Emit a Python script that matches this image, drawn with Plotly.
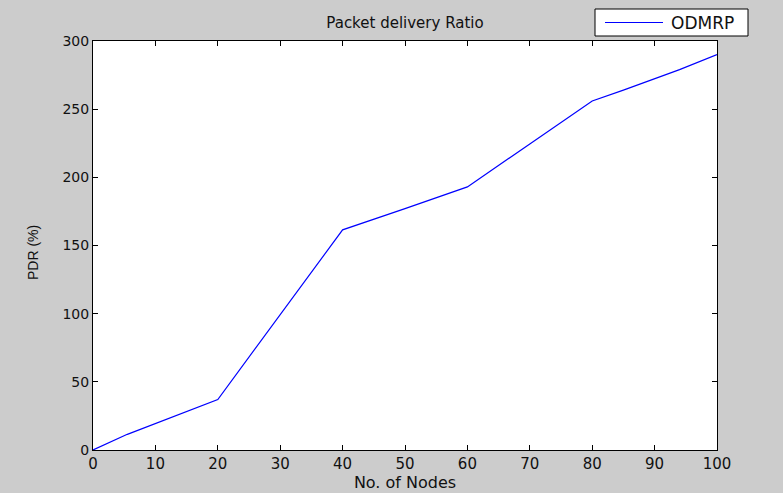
import plotly.graph_objects as go

nodes = [0, 4, 5.5, 20, 40, 50, 57.6, 60, 70, 80, 85, 94, 100]
pdr = [0, 8, 11.5, 37, 161.5, 177, 188.8, 193, 224.5, 256, 264, 279, 290]
x_ticks = [0, 10, 20, 30, 40, 50, 60, 70, 80, 90, 100]
y_ticks = [0, 50, 100, 150, 200, 250, 300]
series_name = "ODMRP"

W, H = 783, 493
L, R, T, B = 93, 66, 41, 43
pw, ph = W - L - R, H - T - B

def px(xp):
    return (xp - L) / pw

def py(yp):
    return (H - B - yp) / ph

FAM = "DejaVu Sans, Verdana, sans-serif"
COL = "#111111"
tick_font = dict(family=FAM, size=14, color=COL)
label_font = dict(family=FAM, size=15, color=COL)

fig = go.Figure()
fig.add_trace(go.Scatter(x=nodes, y=pdr, mode="lines", name=series_name,
                         line=dict(color="#0000FF", width=1.2), showlegend=False))

shapes = [
    # legend box
    dict(type="rect", xref="paper", yref="paper", x0=px(595), x1=px(748), y0=py(36), y1=py(9),
         fillcolor="white", line=dict(color="black", width=1), layer="above"),
    dict(type="line", xref="paper", yref="paper", x0=px(605), x1=px(663), y0=py(22.5), y1=py(22.5),
         line=dict(color="#0000FF", width=1.2), layer="above"),
]

annotations = [
    dict(text=series_name, xref="paper", yref="paper", x=px(669), y=py(23), xanchor="left",
         yanchor="middle", showarrow=False, font=dict(family=FAM, size=17, color=COL)),
    dict(text="PDR (%)", xref="paper", yref="paper", x=px(33), y=py(253), xanchor="center",
         yanchor="middle", textangle=-90, showarrow=False,
         font=dict(family="Liberation Sans, Arial, sans-serif", size=14, color=COL)),
]

fig.update_layout(
    width=W, height=H,
    margin=dict(l=L, r=R, t=T, b=B, autoexpand=False),
    paper_bgcolor="#CCCCCC",
    plot_bgcolor="white",
    font=tick_font,
    showlegend=False,
    shapes=shapes,
    annotations=annotations,
    title=dict(text="Packet delivery Ratio", x=0.5, xref="paper", xanchor="center",
               y=1 - 23 / H, yanchor="middle", font=label_font),
)

axis_common = dict(showgrid=False, zeroline=False, showline=True, linecolor="black", linewidth=1,
                   mirror="ticks", ticks="inside", ticklen=5, tickcolor="black", tickwidth=1)

fig.update_xaxes(range=[0, 100], tickvals=x_ticks, ticktext=[str(v) for v in x_ticks],
                 tickfont=dict(family=FAM, size=15, color=COL),
                 title=dict(text="No. of Nodes", font=dict(family=FAM, size=16, color=COL), standoff=2),
                 **axis_common)
fig.update_yaxes(range=[0, 300], tickvals=y_ticks, ticktext=[str(v) for v in y_ticks],
                 tickfont=tick_font, **axis_common)

fig.write_html("out.html")
